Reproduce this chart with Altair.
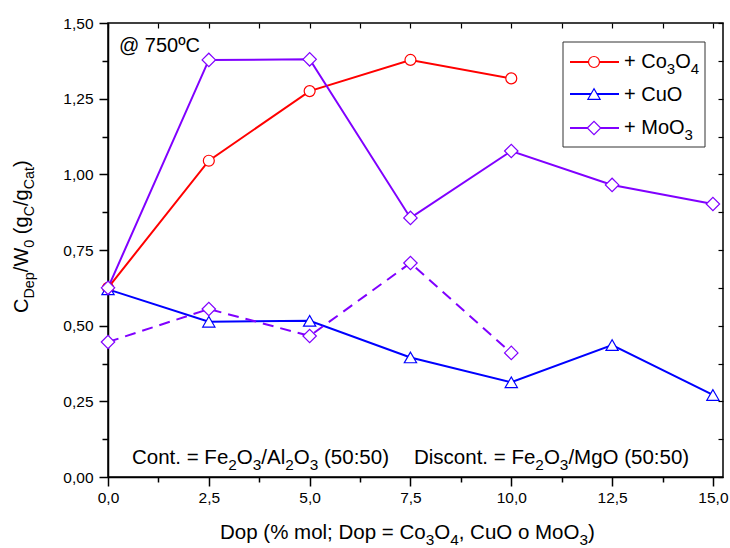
import altair as alt
import pandas as pd

# ---------------- data ----------------
series_names = ["Co3O4", "CuO", "MoO3"]
series_colors = ["#FF0000", "#0000FF", "#8000FF"]
series_shapes = ["circle", "triangle-up", "diamond"]
series_sizes = [120, 180, 150]

x_co3o4 = [0.0, 2.5, 5.0, 7.5, 10.0]
y_co3o4 = [0.625, 1.045, 1.275, 1.378, 1.317]

x_cuo = [0.0, 2.5, 5.0, 7.5, 10.0, 12.5, 15.0]
y_cuo = [0.620, 0.513, 0.516, 0.395, 0.313, 0.436, 0.271]

x_moo3 = [0.0, 2.5, 5.0, 7.5, 10.0, 12.5, 15.0]
y_moo3 = [0.625, 1.378, 1.380, 0.856, 1.077, 0.965, 0.902]

x_moo3_mgo = [0.0, 2.5, 5.0, 7.5, 10.0]
y_moo3_mgo = [0.446, 0.555, 0.466, 0.707, 0.410]

x_ticks = [0.0, 1.25, 2.5, 3.75, 5.0, 6.25, 7.5, 8.75, 10.0, 11.25, 12.5, 13.75, 15.0]
y_ticks = [0.0, 0.125, 0.25, 0.375, 0.5, 0.625, 0.75, 0.875, 1.0, 1.125, 1.25, 1.375, 1.5]

legend_labels = ["+ Co_3O_4", "+ CuO", "+ MoO_3"]
title_x = "Dop (% mol; Dop = Co_3O_4, CuO o MoO_3)"
title_y = "C_{Dep}/W_0 (g_C/g_{Cat})"
note_temp = "@ 750ºC"
note_cont = "Cont. = Fe_2O_3/Al_2O_3 (50:50)"
note_discont = "Discont. = Fe_2O_3/MgO (50:50)"

# ---------------- tables ----------------
rows = []
for xs, ys, s, sup in [(x_co3o4, y_co3o4, "Co3O4", "Al2O3"),
                       (x_cuo, y_cuo, "CuO", "Al2O3"),
                       (x_moo3, y_moo3, "MoO3", "Al2O3"),
                       (x_moo3_mgo, y_moo3_mgo, "MoO3", "MgO")]:
    for xv, yv in zip(xs, ys):
        rows.append({"x": xv, "y": yv, "series": s, "support": sup, "key": s + "_" + sup})
df = pd.DataFrame(rows)

FONT = "Liberation Sans"
W = {' ': 278, '!': 278, '%': 889, '(': 333, ')': 333, '+': 584, ',': 278, '-': 333, '.': 278,
     '/': 278, ':': 278, ';': 278, '=': 584, '@': 1015, 'º': 365,
     'A': 667, 'C': 722, 'D': 722, 'F': 611, 'M': 833, 'O': 778, 'W': 944,
     'a': 556, 'c': 500, 'e': 556, 'g': 556, 'i': 222, 'l': 222, 'm': 833, 'n': 556,
     'o': 556, 'p': 556, 's': 500, 't': 278, 'u': 556}
for d in "0123456789":
    W[d] = 556


def text_width(t):
    """width in em"""
    return sum(W.get(c, 556) for c in t) / 1000.0


def parse(s):
    segs = []
    i = 0
    while i < len(s):
        c = s[i]
        if c == '_':
            if s[i + 1] == '{':
                j = s.index('}', i)
                segs.append((s[i + 2:j], True))
                i = j + 1
            else:
                segs.append((s[i + 1], True))
                i += 2
        else:
            if segs and not segs[-1][1]:
                segs[-1] = (segs[-1][0] + c, False)
            else:
                segs.append((c, False))
            i += 1
    return segs


def rich(s, x0, y0, size, angle=0, sub_scale=0.75, drop=0.3):
    out = []
    adv = 0.0
    for t, sub in parse(s):
        fs = size * sub_scale if sub else size
        dr = size * drop if sub else 0.0
        lead = len(t) - len(t.lstrip(' '))
        adv += lead * W[' '] * fs / 1000.0
        t2 = t.lstrip(' ')
        if angle == 0:
            px, py = x0 + adv, y0 + dr
        else:
            px, py = x0 + dr, y0 - adv
        if t2:
            out.append({"px": px, "py": py, "text": t2, "size": fs, "angle": angle})
        adv += text_width(t2) * fs
    return out


# plot origin in page pixels
OX, OY = 108, 23
PW, PH = 615, 454

text_rows = []
text_rows += rich(note_temp, 119 - OX, 52 - OY, 20)
text_rows += rich(note_cont, 132 - OX, 464 - OY, 20.5)
text_rows += rich(note_discont, 414 - OX, 464 - OY, 20.5)
text_rows += rich(title_x, 220 - OX, 539 - OY, 20.5)
text_rows += rich(title_y, 28 - OX, 313 - OY, 20, angle=270, sub_scale=0.72)
leg_line_y = [62 - OY, 94 - OY, 128 - OY]
leg_text_y = [68 - OY, 101 - OY, 134 - OY]
for lab, ty in zip(legend_labels, leg_text_y):
    text_rows += rich(lab, 624 - OX, ty, 20)
text_df = pd.DataFrame(text_rows)

leg_df = pd.DataFrame({"series": series_names, "ly": leg_line_y,
                       "lx1": [570 - OX] * 3, "lx2": [619 - OX] * 3, "mx": [594 - OX] * 3})

color_scale = alt.Scale(domain=series_names, range=series_colors)
shape_scale = alt.Scale(domain=series_names, range=series_shapes)
size_scale = alt.Scale(domain=series_names, range=series_sizes)

xscale = alt.Scale(domain=[0, 15.25], nice=False, zero=False)
yscale = alt.Scale(domain=[0, 1.5], nice=False, zero=False)

x_axis = alt.Axis(values=x_ticks, title=None, grid=False, labelFlush=False, labelOverlap=False,
                  labelExpr="datum.value % 2.5 == 0 ? replace(format(datum.value, '.1f'), '.', ',') : ''",
                  tickSize={"condition": {"test": "datum.value % 2.5 != 0", "value": 5}, "value": 9},
                  labelPadding=4, labelFont=FONT, labelFontSize=15.5, labelColor="black",
                  domainColor="black", domainWidth=1.5, tickColor="black", tickWidth=1.5)
y_axis = alt.Axis(values=y_ticks, title=None, grid=False, labelFlush=False, labelOverlap=False,
                  labelExpr="datum.value % 0.25 == 0 ? replace(format(datum.value, '.2f'), '.', ',') : ''",
                  tickSize={"condition": {"test": "datum.value % 0.25 != 0", "value": 6}, "value": 9},
                  labelPadding=6, labelFont=FONT, labelFontSize=15.5, labelColor="black",
                  domainColor="black", domainWidth=1.5, tickColor="black", tickWidth=1.5)

solid = alt.Chart(df[df.support == "Al2O3"]).mark_line(strokeWidth=2).encode(
    x=alt.X("x:Q", scale=xscale, axis=x_axis),
    y=alt.Y("y:Q", scale=yscale, axis=y_axis),
    color=alt.Color("series:N", scale=color_scale, legend=None),
    detail="key:N",
)

dashed = alt.Chart(df[df.support == "MgO"]).mark_line(strokeWidth=2, strokeDash=[11, 7]).encode(
    x=alt.X("x:Q", scale=xscale, axis=None),
    y=alt.Y("y:Q", scale=yscale, axis=None),
    color=alt.Color("series:N", scale=color_scale, legend=None),
)

points = alt.Chart(df).mark_point(filled=True, fill="white", strokeWidth=1.2, opacity=1).encode(
    x=alt.X("x:Q", scale=xscale, axis=None),
    y=alt.Y("y:Q", scale=yscale, axis=None),
    stroke=alt.Stroke("series:N", scale=color_scale, legend=None),
    shape=alt.Shape("series:N", scale=shape_scale, legend=None),
    size=alt.Size("series:N", scale=size_scale, legend=None),
)

frame_ticks = alt.Chart(df).mark_point(opacity=0).encode(
    x=alt.X("x:Q", scale=xscale, axis=alt.Axis(orient="top", values=x_ticks, labels=False, domain=False,
                                              title=None, grid=False, tickSize=5, offset=-5,
                                              tickColor="black", tickWidth=1.2)),
    y=alt.Y("y:Q", scale=yscale, axis=alt.Axis(orient="right", values=y_ticks, labels=False, domain=False,
                                              title=None, grid=False, tickSize=5, offset=-5,
                                              tickColor="black", tickWidth=1.2)),
)

box = alt.Chart(pd.DataFrame({"series": ["box"]})).mark_rect(
    fill="white", stroke="#333333", strokeWidth=1).encode(
    x=alt.value(563 - OX), x2=alt.value(705 - OX), y=alt.value(42 - OY), y2=alt.value(147 - OY))

leg_lines = alt.Chart(leg_df).mark_rule(strokeWidth=2).encode(
    x=alt.X("lx1:Q", scale=None, axis=None), x2="lx2:Q",
    y=alt.Y("ly:Q", scale=None, axis=None),
    color=alt.Color("series:N", scale=color_scale, legend=None),
)
leg_points = alt.Chart(leg_df).mark_point(filled=True, fill="white", strokeWidth=1.2, opacity=1).encode(
    x=alt.X("mx:Q", scale=None, axis=None),
    y=alt.Y("ly:Q", scale=None, axis=None),
    stroke=alt.Stroke("series:N", scale=color_scale, legend=None),
    shape=alt.Shape("series:N", scale=shape_scale, legend=None),
    size=alt.Size("series:N", scale=size_scale, legend=None),
)

texts = alt.Chart(text_df).mark_text(align="left", baseline="alphabetic", font=FONT, color="black").encode(
    x=alt.X("px:Q", scale=None, axis=None),
    y=alt.Y("py:Q", scale=None, axis=None),
    text="text:N",
    size=alt.Size("size:Q", scale=None, legend=None),
    angle=alt.Angle("angle:Q", scale=None),
)

chart = alt.layer(solid, dashed, points, frame_ticks, box, leg_lines, leg_points, texts).resolve_axis(
    x="independent", y="independent"
).properties(
    width=PW, height=PH,
    padding={"left": OX, "top": OY, "right": 730 - OX - PW, "bottom": 548 - OY - PH},
    autosize=alt.AutoSizeParams(type="none"),
    background="white",
).configure_view(stroke="black", strokeWidth=1.5)

chart.save("out.html", embed_options={"renderer": "svg", "actions": False})
